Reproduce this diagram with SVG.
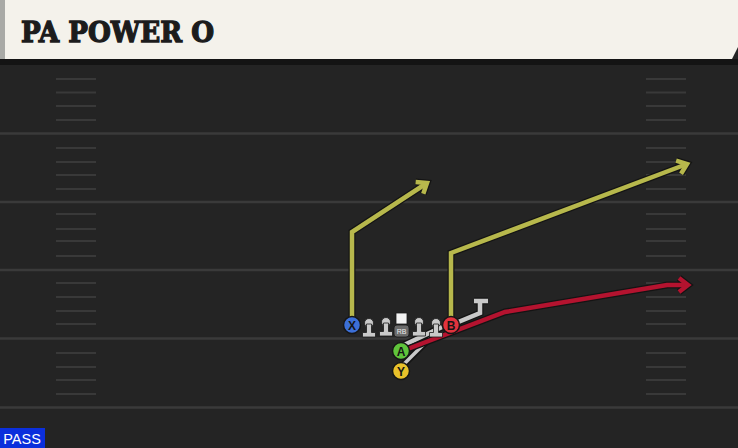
<svg xmlns="http://www.w3.org/2000/svg" width="738" height="448" viewBox="0 0 738 448">
<style>
.yl{stroke:#3a3a3a;stroke-width:2.5;fill:none}
.hs{stroke:#393939;stroke-width:2;fill:none}
.ol{stroke:#141414;stroke-width:7;fill:none;stroke-linejoin:miter;stroke-linecap:butt}
.yw{stroke:#b7b84c;stroke-width:4.5;fill:none;stroke-linejoin:miter}
.rd{stroke:#b4132f;stroke-width:4.5;fill:none;stroke-linejoin:miter}
.gy{stroke:#c9c9c9;stroke-width:4.5;fill:none;stroke-linejoin:miter}
.lm{fill:#c9c9c9;stroke:#1a1a1a;stroke-width:0.8}
.pc{stroke:#161616;stroke-width:1.5}
.pl{font-family:"Liberation Sans",Arial,sans-serif;font-weight:bold;font-size:12px;fill:#151515;text-anchor:middle}
</style>
<defs>
<marker id="ao" markerUnits="userSpaceOnUse" markerWidth="30" markerHeight="30" refX="0" refY="0" viewBox="-15 -15 30 30" orient="auto" overflow="visible">
<path d="M-9,-7 L0,0 L-9,7" fill="none" stroke="#141414" stroke-width="7"/>
</marker>
<marker id="ay" markerUnits="userSpaceOnUse" markerWidth="30" markerHeight="30" refX="0" refY="0" viewBox="-15 -15 30 30" orient="auto" overflow="visible">
<path d="M-9,-7 L0,0 L-9,7" fill="none" stroke="#b7b84c" stroke-width="4.5"/>
</marker>
<marker id="ar" markerUnits="userSpaceOnUse" markerWidth="30" markerHeight="30" refX="0" refY="0" viewBox="-15 -15 30 30" orient="auto" overflow="visible">
<path d="M-9,-7 L0,0 L-9,7" fill="none" stroke="#b4132f" stroke-width="4.5"/>
</marker>
</defs>
<g id="field">
<rect x="0" y="0" width="738" height="448" fill="#242424"/>
<rect x="0" y="59" width="738" height="6" fill="#141414"/>
<path class="yl" d="M0,133.5H738M0,202H738M0,270H738M0,338.5H738M0,407.5H738"/>
<path class="hs" d="M56,79H96M56,92.5H96M56,106H96M56,120H96M56,148H96M56,162H96M56,175H96M56,189H96M56,214H96M56,229H96M56,241H96M56,256H96M56,283H96M56,297H96M56,311H96M56,324H96M56,353H96M56,367H96M56,380H96M56,394H96"/>
<path class="hs" d="M646,79H686M646,92.5H686M646,106H686M646,120H686M646,148H686M646,162H686M646,175H686M646,189H686M646,214H686M646,229H686M646,241H686M646,256H686M646,283H686M646,297H686M646,311H686M646,324H686M646,353H686M646,367H686M646,380H686M646,394H686"/>
</g>
<g id="header">
<rect x="0" y="0" width="6" height="59" fill="#a9aaa6"/>
<path d="M5,0H738V47L732,59H5Z" fill="#f4f2eb"/>
<text x="21" y="42" font-family="'DejaVu Serif','Liberation Serif',serif" font-weight="bold" font-size="28" fill="#1c1c1c" stroke="#1c1c1c" stroke-width="1.3" textLength="193" lengthAdjust="spacingAndGlyphs">PA POWER O</text>
</g>
<g id="connectors">
<path class="ol" d="M352,325V232L427,183" marker-end="url(#ao)"/>
<path class="yw" d="M352,325V232L427,183" marker-end="url(#ay)"/>
<path class="ol" d="M451,325V253L687,164" marker-end="url(#ao)"/>
<path class="yw" d="M451,325V253L687,164" marker-end="url(#ay)"/>
<path class="ol" d="M404,364L430,338"/>
<path class="gy" d="M404,364L430,338" style="stroke-width:3.5"/>
<path class="ol" d="M404,345L442,327"/>
<path class="gy" d="M404,345L442,327"/>
<path class="ol" d="M451,325L480,313V302M474,301H488"/>
<path class="gy" d="M451,325L480,313V302M474,301H488"/>
<path class="ol" d="M405,350L505,312L667,285H688" marker-end="url(#ao)"/>
<path class="rd" d="M405,350L505,312L667,285H688" marker-end="url(#ar)"/>
</g>
<g id="lineman1"><circle class="lm" cx="369" cy="323" r="4.5"/><path class="lm" d="M366.5,324H371.5V332.5H375.5V337H362.5V332.5H366.5Z"/></g>
<g id="lineman2"><circle class="lm" cx="386" cy="322" r="4.5"/><path class="lm" d="M383.5,323H388.5V331.5H392.5V336H379.5V331.5H383.5Z"/></g>
<g id="center"><rect x="396" y="313" width="11" height="11" fill="#f2f2f2" stroke="#1a1a1a" stroke-width="0.8"/><rect x="394" y="325" width="15" height="12" rx="3" fill="#6b6b6b" stroke="#1a1a1a" stroke-width="0.8"/><text x="401.5" y="334" font-family="'Liberation Sans',Arial,sans-serif" font-size="7" fill="#ececec" text-anchor="middle">RB</text></g>
<g id="lineman4"><circle class="lm" cx="419" cy="322" r="4.5"/><path class="lm" d="M416.5,323H421.5V331.5H425.5V336H412.5V331.5H416.5Z"/></g>
<g id="lineman5"><circle class="lm" cx="436" cy="323" r="4.5"/><path class="lm" d="M433.5,324H438.5V332.5H442.5V337H429.5V332.5H433.5Z"/></g>
<g id="X"><circle class="pc" cx="352" cy="325" r="8.5" fill="#3c6fd6"/><text class="pl" x="352" y="329.5">X</text></g>
<g id="B"><circle class="pc" cx="451" cy="325" r="8.5" fill="#e2333d"/><text class="pl" x="451" y="329.5">B</text></g>
<g id="A"><circle class="pc" cx="401" cy="351" r="8.5" fill="#5fc43b"/><text class="pl" x="401" y="355.5">A</text></g>
<g id="Y"><circle class="pc" cx="401" cy="371" r="8.5" fill="#e8c12a"/><text class="pl" x="401" y="375.5">Y</text></g>
<g id="pass"><rect x="0" y="428" width="45" height="20" fill="#0b2fdc"/><text x="22" y="443.5" font-family="'Liberation Sans',Arial,sans-serif" font-size="14.5" fill="#ffffff" text-anchor="middle">PASS</text></g>
</svg>
